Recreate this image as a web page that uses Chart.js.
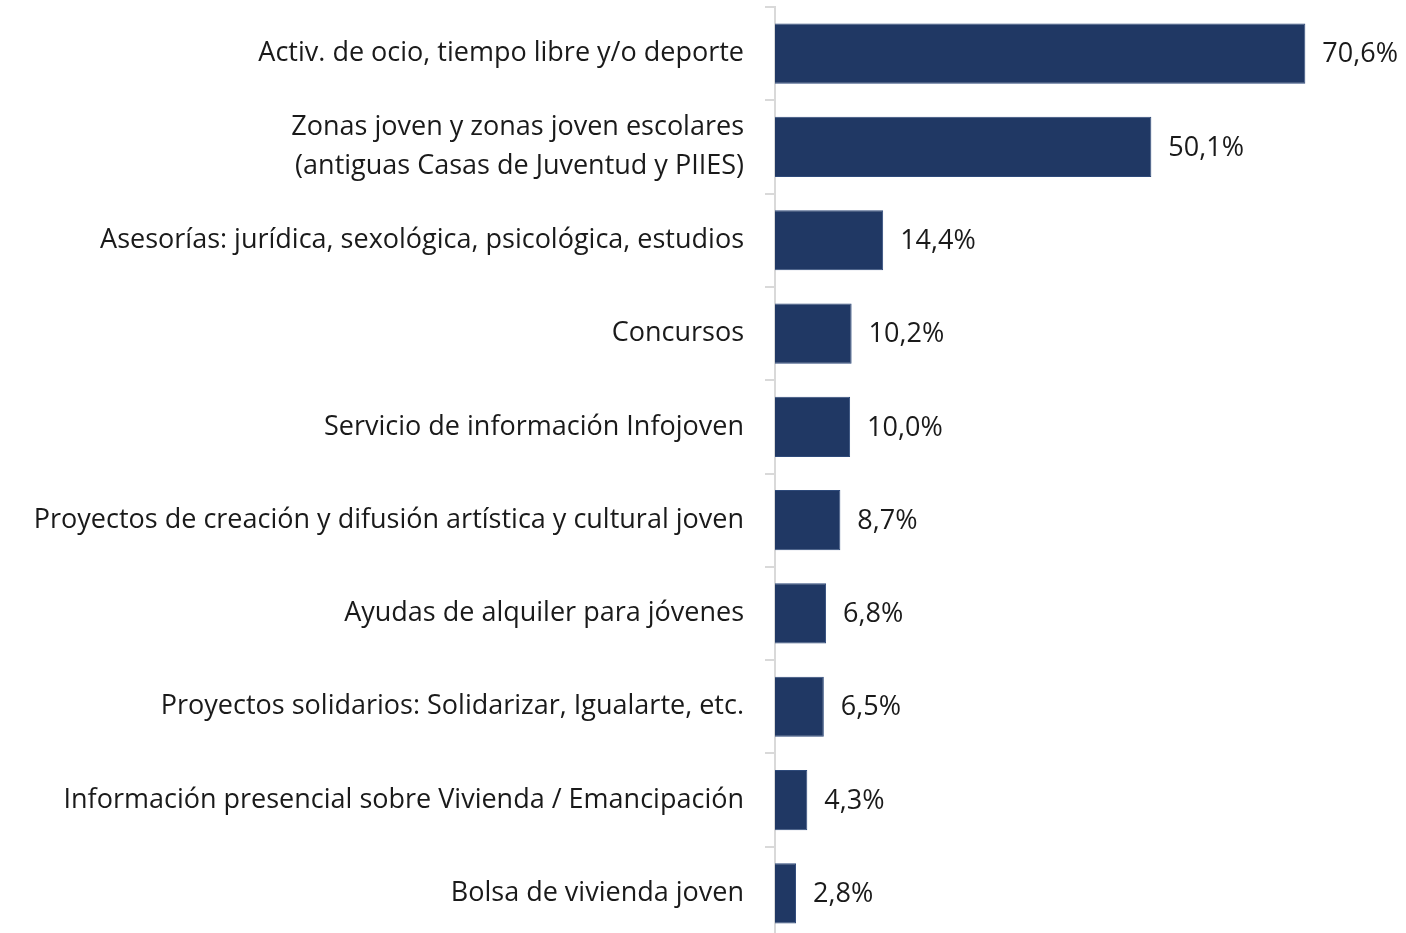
<!DOCTYPE html>
<html>
<head>
<meta charset="utf-8">
<script src="https://cdn.jsdelivr.net/npm/chart.js@4.4.1/dist/chart.umd.min.js"></script>
<style>
  html, body { margin: 0; padding: 0; background: #fff; overflow: hidden; }
  #wrap { width: 1406px; height: 940px; }
</style>
</head>
<body>
<div id="wrap"><canvas id="chart" width="1406" height="940"></canvas></div>
<script>
// categories and values
const categories = [
  'Activ. de ocio, tiempo libre y/o deporte',
  ['Zonas joven y zonas joven escolares', '(antiguas Casas de Juventud y PIIES)'],
  'Asesorías: jurídica, sexológica, psicológica, estudios',
  'Concursos',
  'Servicio de información Infojoven',
  'Proyectos de creación y difusión artística y cultural joven',
  'Ayudas de alquiler para jóvenes',
  'Proyectos solidarios: Solidarizar, Igualarte, etc.',
  'Información presencial sobre Vivienda / Emancipación',
  'Bolsa de vivienda joven'
];
const values = [70.6, 50.1, 14.4, 10.2, 10.0, 8.7, 6.8, 6.5, 4.3, 2.8];

const FONT = '"Open Sans", sans-serif';
const TEXT = '#1a1a1a';

// draws "70,6%" style labels just past each bar end
const valueLabels = {
  id: 'valueLabels',
  afterDatasetsDraw(c) {
    const ctx = c.ctx;
    const meta = c.getDatasetMeta(0);
    ctx.save();
    ctx.font = '27px ' + FONT;
    ctx.fillStyle = TEXT;
    ctx.textAlign = 'left';
    ctx.textBaseline = 'middle';
    meta.data.forEach((bar, i) => {
      const txt = values[i].toFixed(1).replace('.', ',') + '%';
      ctx.fillText(txt, bar.x + 17, bar.y + 1);
    });
    ctx.restore();
  }
};

new Chart(document.getElementById('chart'), {
  type: 'bar',
  data: {
    labels: categories,
    datasets: [{
      data: values,
      backgroundColor: '#203864',
      borderColor: '#2e4a7a',
      borderWidth: 1,
      borderSkipped: 'left',
      categoryPercentage: 1,
      barPercentage: 0.645
    }]
  },
  options: {
    indexAxis: 'y',
    responsive: false,
    animation: false,
    layout: { padding: { top: 7, right: 0, bottom: 0, left: 0 } },
    plugins: { legend: { display: false }, tooltip: { enabled: false } },
    scales: {
      x: { display: false, min: 0, max: 84 },
      y: {
        afterFit(scale) {
          scale.width = 775;
          scale.paddingTop = 0;
          scale.paddingBottom = 0;
        },
        grid: {
          offset: true,
          drawOnChartArea: false,
          drawTicks: true,
          tickLength: 10,
          color: '#d9d9d9',
          lineWidth: 2
        },
        border: { color: '#d9d9d9', width: 2 },
        ticks: {
          padding: 21,
          color: TEXT,
          font: { family: FONT, size: 27, lineHeight: 1.44 },
          autoSkip: false
        }
      }
    }
  },
  plugins: [valueLabels]
});
</script>
</body>
</html>
